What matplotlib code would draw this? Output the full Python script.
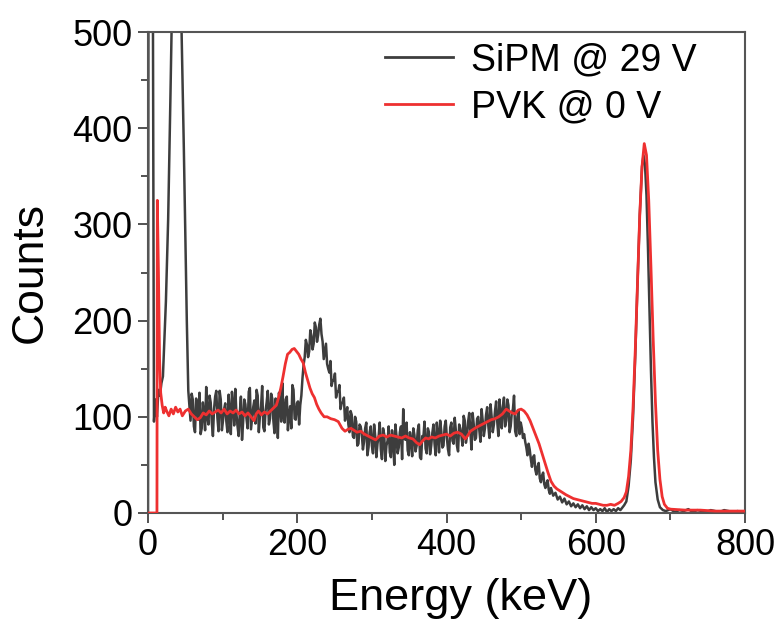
import matplotlib
matplotlib.use("Agg")
import matplotlib.pyplot as plt
import numpy as np
from matplotlib.ticker import MultipleLocator

plt.rcParams['font.family'] = ['Liberation Sans', 'DejaVu Sans']

# ---------------- data ----------------
sipm_energy = [0, 1, 6, 8, 10, 12, 14, 16, 18, 20, 24, 27, 30, 32, 35, 38, 41, 44, 46, 48, 50, 52, 54,
               57, 60, 63, 66, 69, 72, 75, 78, 81,
               84, 87, 90, 93, 96, 99, 102, 105, 108, 111,
               114, 117, 120, 123, 126, 129, 132, 135, 138, 141,
               144, 147, 150, 153, 156, 159, 162, 165, 168, 171,
               174, 177, 180, 183, 186, 189, 192, 195, 198, 201,
               204, 207, 210, 213, 216, 219, 222, 225, 228, 231,
               234, 237, 240, 243, 246, 249, 252, 255, 258, 261,
               264, 267, 270, 273, 276, 279, 282, 285, 288, 291,
               294, 297, 300, 303, 306, 309, 312, 315, 318, 321,
               324, 327, 330, 333, 336, 339, 342, 345, 348, 351,
               354, 357, 360, 363, 366, 369, 372, 375, 378, 381,
               384, 387, 390, 393, 396, 399, 402, 405, 408, 411,
               414, 417, 420, 423, 426, 429, 432, 435, 438, 441,
               444, 447, 450, 453, 456, 459, 462, 465, 468, 471,
               474, 477, 480, 483, 486, 489, 492, 495, 498, 501,
               504, 507, 510, 513, 516, 519, 522, 525, 528, 531,
               534, 537, 540, 543, 546, 549, 552, 555, 558, 561,
               564, 567, 570, 573, 576, 579, 582, 585, 588, 591,
               594, 597, 600, 603, 606, 609, 612, 615, 618, 621,
               624, 627, 630, 633, 636, 638,
               641, 644, 647, 650, 653, 656, 659, 662, 664, 666, 668, 670, 672, 674, 676, 678, 680, 683, 686, 690,
               694, 700, 706, 712, 718, 724, 730, 736, 742, 748, 754, 760, 766, 772, 778, 784, 790, 796, 800]
sipm_counts = [0, 900, 700, 95, 118, 100, 128, 122, 135, 142, 220, 305, 430, 520, 650, 700, 650, 540, 460, 380, 290, 200, 127,
               96, 118, 84, 110, 125, 88, 103, 131, 92,
               115, 80, 121, 99, 127, 86, 108, 95, 123, 82,
               112, 129, 90, 104, 76, 118, 98, 126, 87, 110,
               93, 122, 101, 132, 85, 115, 92, 124, 96, 119,
               78, 112, 135, 94, 121, 102, 88, 128, 97, 116,
               112, 140, 162, 175, 168, 184, 176, 193, 185, 202,
               178, 168, 155, 146, 132, 138, 120, 126, 108, 115,
               96, 110, 84, 102, 78, 95, 72, 90, 66, 88,
               60, 84, 70, 92, 58, 79, 66, 88, 54, 75,
               63, 86, 50, 80, 68, 90, 108, 76, 65, 84,
               59, 81, 70, 92, 56, 78, 67, 88, 61, 83,
               72, 94, 63, 85, 70, 96, 66, 89, 75, 99,
               70, 92, 80, 101, 73, 95, 84, 104, 76, 98,
               86, 108, 80, 102, 91, 113, 84, 106, 95, 118,
               88, 120, 96, 112, 90, 108, 85, 100, 82, 88,
               82, 68, 72, 56, 58, 45, 48, 36, 39, 30,
               31, 24, 26, 18, 21, 14, 17, 11, 15, 9,
               12, 7, 10, 6, 9, 5, 8, 4, 7, 3,
               6, 3, 5, 2, 4, 2, 5, 1, 4, 2,
               4, 2, 5, 3, 6, 8,
               12, 28, 55, 100, 165, 240, 310, 360, 372, 362, 330, 275, 210, 148, 95, 58, 32, 14, 6, 3,
               2, 4, 1, 3, 2, 4, 1, 3, 2, 1, 3, 2, 1, 3, 2, 1, 2, 1, 2]

# intermediate SiPM channels (58.5 ... 538.5 keV, every 3 keV) in the noisy continuum
sipm_mid_energy = np.arange(58.5, 540.0, 3.0)
sipm_mid_counts = [124, 90, 119, 97, 82, 115, 86, 100, 122, 94,
                   108, 127, 85, 118, 96, 114, 84, 104, 126, 91,
                   103, 80, 121, 95, 113, 88, 130, 99, 117, 128,
                   84, 111, 89, 106, 127, 98, 119, 83, 108, 125,
                   95, 103, 118, 86, 111, 133, 98, 114, 92, 122,
                   154, 180, 162, 190, 170, 198, 178, 196, 186, 160,
                   176, 150, 158, 138, 145, 126, 133, 114, 120, 104,
                   92, 106, 80, 100, 70, 92, 82, 74, 94, 68,
                   90, 62, 80, 72, 94, 56, 82, 70, 90, 58,
                   74, 92, 62, 84, 56, 78, 94, 60, 76, 88,
                   64, 86, 58, 80, 95, 62, 84, 70, 92, 60,
                   82, 96, 68, 90, 78, 60, 94, 72, 86, 64,
                   88, 70, 96, 80, 104, 66, 92, 78, 100, 74,
                   96, 88, 110, 78, 100, 92, 116, 80, 104, 110,
                   90, 118, 84, 104, 122, 80, 106, 94, 78, 74,
                   60, 66, 48, 60, 40, 52, 32, 42, 26, 34,
                   20]

pvk_energy = [0, 12, 12.5, 14, 15.5, 17, 19, 21, 23, 25, 28, 31, 34, 37, 40, 43, 46, 50, 54, 58, 62, 66, 70,
              74, 78, 82, 86, 90, 94, 98, 102, 106, 110, 114, 118, 122, 126, 130, 134, 138, 142, 145, 148,
              152, 156, 160, 164, 168, 172, 175, 178, 181, 184, 187, 190, 193, 196, 199, 202, 205, 208, 211,
              214, 217, 220, 223, 226, 229, 232, 236, 240, 245, 250, 255, 260, 264, 268, 272, 276, 280, 285,
              290, 295, 300, 305, 310, 315, 320, 325, 330, 335, 340, 345, 350, 355, 360, 364, 368, 372, 376,
              380, 385, 390, 395, 400, 405, 410, 415, 420, 425, 428, 432, 436, 440, 445, 450, 455, 460, 465,
              470, 475, 480, 484, 488, 492, 496, 500, 504, 508, 512, 516, 520, 524, 528, 532, 536, 540, 544,
              548, 552, 556, 560, 565, 570, 575, 580, 585, 590, 595, 600, 605, 610, 615, 620, 625, 630, 634,
              638, 641, 644, 647, 650, 653, 656, 659, 662, 665, 668, 671, 674, 677, 680, 683, 686, 689, 692,
              696, 700, 720, 740, 760, 780, 800]
pvk_counts = [0, 0, 325, 250, 160, 125, 112, 104, 110, 106, 101, 108, 103, 110, 105, 108, 101, 106, 108, 103, 100, 97, 99,
              104, 102, 106, 103, 105, 107, 104, 108, 103, 106, 104, 107, 103, 105, 101, 104, 100, 96, 103, 106,
              102, 105, 103, 106, 109, 112, 120, 130, 142, 155, 165, 167, 170, 171, 168, 165, 160, 156, 146,
              138, 130, 124, 120, 113, 108, 104, 100, 100, 98, 97, 95, 88, 85, 87, 88, 86, 84, 85,
              82, 80, 78, 76, 80, 81, 79, 81, 80, 79, 78, 80, 78, 77, 73, 71, 75, 78, 77,
              79, 78, 80, 81, 82, 80, 83, 84, 82, 77, 80, 85, 87, 89, 91, 93, 95, 97, 98,
              100, 103, 108, 106, 104, 103, 107, 108, 106, 102, 96, 88, 80, 72, 62, 52, 42, 33, 28,
              25, 23, 21, 19, 17, 15, 14, 13, 12, 11, 10, 10, 9, 8, 8, 9, 8, 10, 12,
              16, 22, 38, 65, 110, 170, 240, 310, 360, 384, 372, 325, 255, 180, 115, 65, 35, 17, 9,
              5, 4, 3, 3, 2, 2, 2]

labels = ["SiPM @ 29 V", "PVK @ 0 V"]
colors = ["#3d3d3d", "#ee3030"]
x_ticks = [0, 200, 400, 600, 800]
y_ticks = [0, 100, 200, 300, 400, 500]

# merge SiPM channels in energy order
e_all = np.concatenate([np.asarray(sipm_energy, float), sipm_mid_energy])
c_all = np.concatenate([np.asarray(sipm_counts, float), np.asarray(sipm_mid_counts, float)])
order = np.argsort(e_all, kind="stable")
e_all, c_all = e_all[order], c_all[order]

# ---------------- figure ----------------
fig = plt.figure(figsize=(7.83, 6.29), dpi=100)
ax = fig.add_axes([148 / 783, 116 / 629, 597 / 783, 481 / 629])

ax.plot(e_all, c_all, color=colors[0], lw=1.8, label=labels[0], zorder=2)
ax.plot(pvk_energy, pvk_counts, color=colors[1], lw=2.0, label=labels[1], zorder=3)

ax.set_xlim(0, 800)
ax.set_ylim(0, 500)
ax.set_xticks(x_ticks)
ax.set_yticks(y_ticks)
ax.xaxis.set_minor_locator(MultipleLocator(100))
ax.yaxis.set_minor_locator(MultipleLocator(50))
ax.tick_params(which='major', direction='out', length=7, width=1.3, labelsize=26, pad=4, color='#444444')
ax.tick_params(which='minor', direction='out', length=5, width=1.3, color='#444444')
for s in ax.spines.values():
    s.set_color('#555555')
    s.set_linewidth(1.5)

ax.set_xlabel("Energy (keV)", fontsize=32.5)
ax.xaxis.set_label_coords(0.523, -0.135)
ax.set_ylabel("Counts", fontsize=32, labelpad=16)

leg = ax.legend(loc='upper left', bbox_to_anchor=((385 - 148) / 597, 0.979), frameon=False,
                fontsize=27, handlelength=1.8, handletextpad=0.5, labelspacing=0.3,
                borderpad=0.0, borderaxespad=0.0)
for line in leg.get_lines():
    line.set_linewidth(2.0)

fig.savefig("out.png", dpi=100)
